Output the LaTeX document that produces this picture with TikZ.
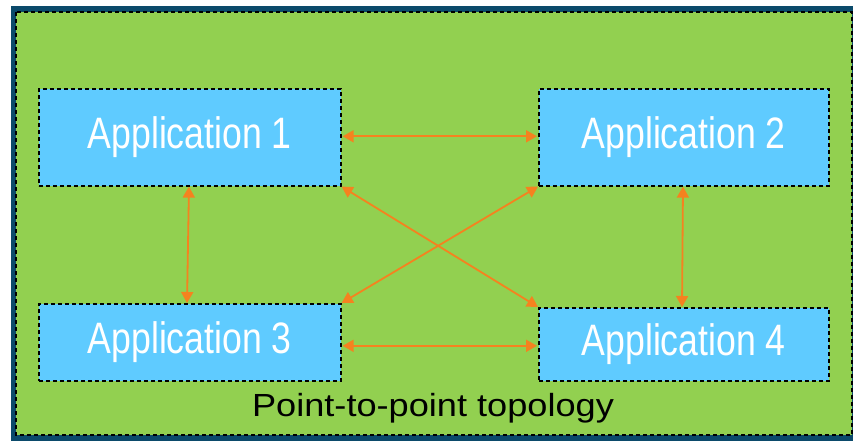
\documentclass[tikz,border=0pt]{standalone}
\usepackage{fontspec}
\setmainfont{Liberation Sans}
\usetikzlibrary{arrows.meta,calc}
\definecolor{framedark}{HTML}{0B4A6B}
\definecolor{panelgreen}{HTML}{92D050}
\definecolor{appblue}{HTML}{5FCBFF}
\definecolor{linkorange}{HTML}{F5821F}
\newcommand{\applabel}[1]{\raisebox{-2pt}{\scalebox{0.81}[1]{#1}}}
\begin{document}
\begin{tikzpicture}[x=1pt,y=-1pt,
  dashborder/.style={draw=black,line width=1.6pt,dash pattern=on 4pt off 3pt},
  appbox/.style={dashborder,fill=appblue,inner sep=0pt,anchor=north west,
    text=white,font=\fontsize{44}{48}\selectfont},
  link/.style={draw=linkorange,line width=1.8pt,
    {Triangle[length=11pt,width=12pt]}-{Triangle[length=11pt,width=12pt]}}]
  \useasboundingbox (0,0) rectangle (853,441);
  % frame and panel
  \fill[framedark] (11,6) rectangle (870,441);
  \path[dashborder,fill=panelgreen] (16,12) rectangle (852,435);
  % applications
  \node[appbox,minimum width=302pt,minimum height=97pt] (a1) at (38,88)
    {\applabel{Application 1}};
  \node[appbox,minimum width=290pt,minimum height=97pt] (a2) at (538,88)
    {\applabel{Application 2}};
  \node[appbox,minimum width=302pt,minimum height=77pt] (a3) at (38,303)
    {\applabel{Application 3}};
  \node[appbox,minimum width=290pt,minimum height=73pt] (a4) at (538,307)
    {\applabel{Application 4}};
  % caption
  \node[font=\fontsize{32}{36}\selectfont,text=black] (cap) at (433,408)
    {\scalebox{1.13}[1]{Point-to-point topology}};
  % point-to-point links
  \draw[link] ($(a1.east)+(1,-1)$) -- ($(a2.west)+(-1,-1)$);
  \draw[link] ($(a3.east)+(1,3.5)$) -- ($(a4.west)+(-1,1.5)$);
  \draw[link] ($(a1.south west)+(151,0)$) -- ($(a3.north west)+(149,0)$);
  \draw[link] ($(a2.south west)+(145,0)$) -- ($(a4.north west)+(144,0)$);
  \draw[link] (a1.south east) -- (a4.north west);
  \draw[link] (a2.south west) -- (a3.north east);
\end{tikzpicture}
\end{document}
